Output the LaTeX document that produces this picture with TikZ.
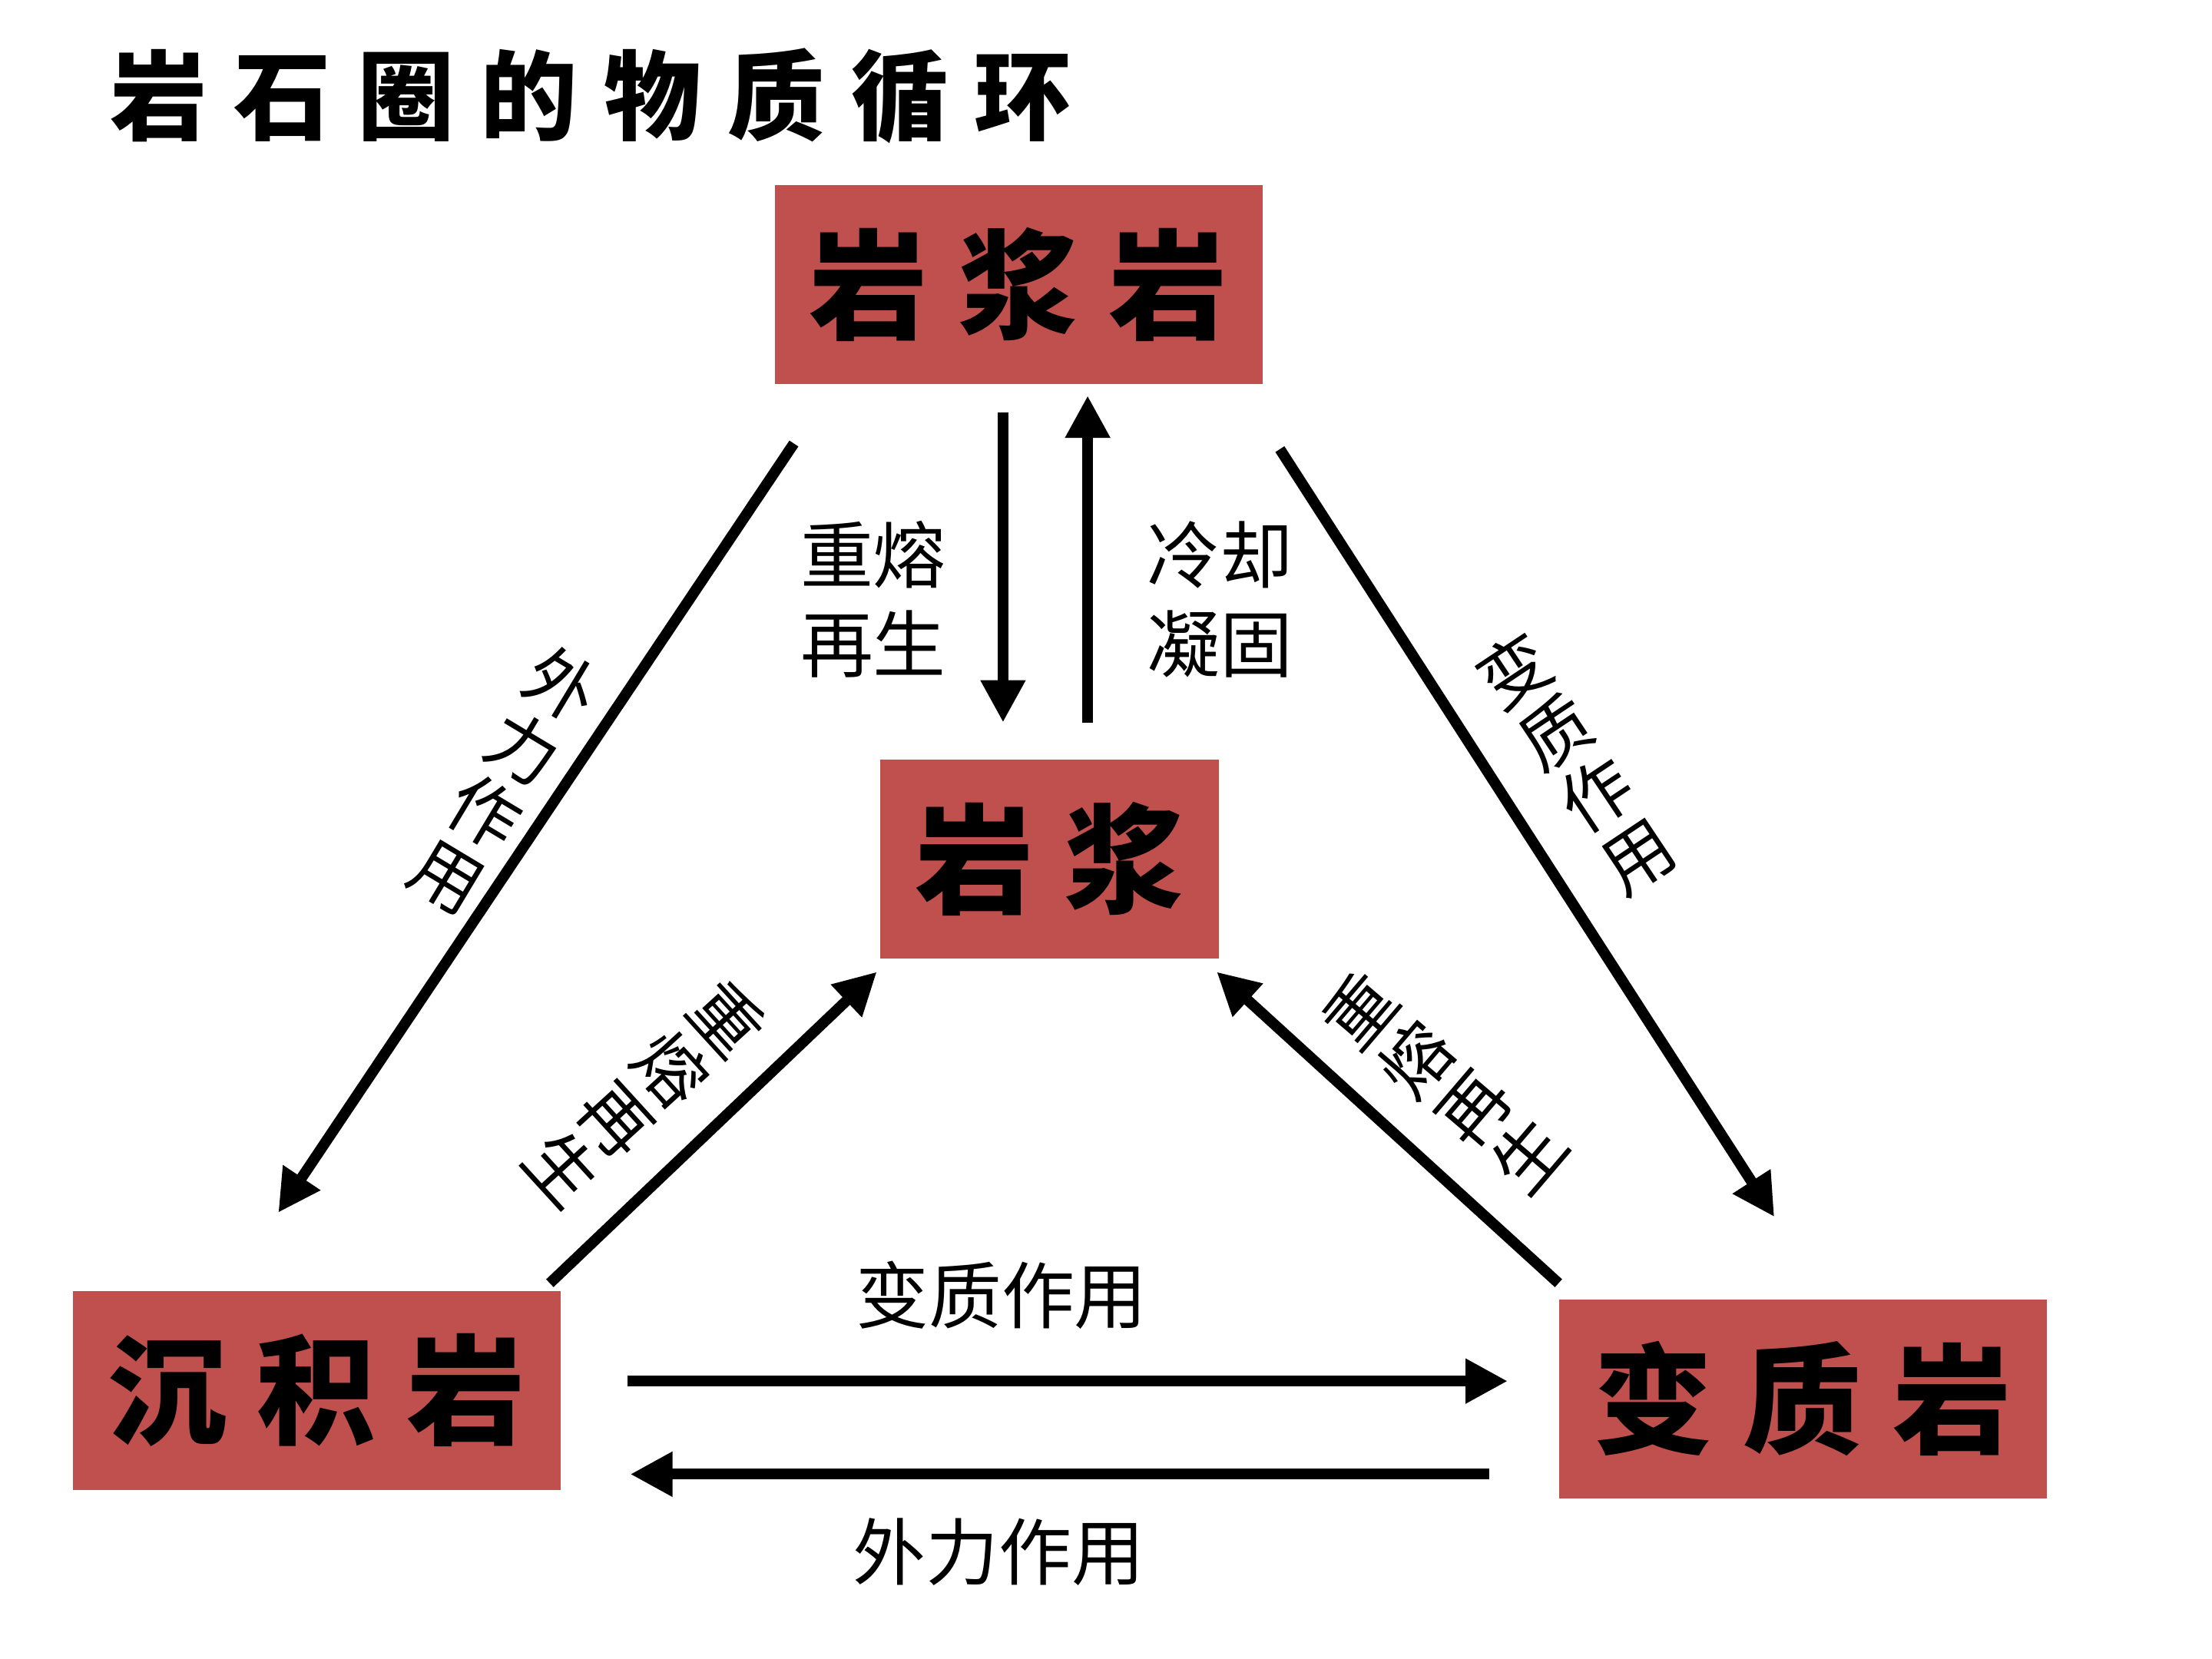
\documentclass[tikz,border=0pt]{standalone}
\usepackage{fontspec}
\newfontfamily\cjk{Noto Sans CJK SC}
\usetikzlibrary{arrows.meta,calc}
\definecolor{rockred}{HTML}{C0504D}

\begin{document}
\begin{tikzpicture}[
            x=0.18367mm, y=-0.18367mm,
            rock/.style={fill=rockred, minimum width=63.5mm, minimum height=25.9mm, inner sep=0pt,
                font=\cjk\bfseries\fontsize{44}{44}\selectfont\addfontfeature{LetterSpace=26}},
            lbl/.style={font=\cjk\fontsize{27}{33}\selectfont, align=center, inner sep=0pt},
            stack/.style={lbl, font=\cjk\fontsize{26}{27.5}\selectfont},
            flow/.style={-{Triangle[width=5.5mm, length=5.5mm]}, line width=1.4mm},
        ]
            \useasboundingbox (0, 0) rectangle (1568, 1176);
            \node[anchor=west, inner sep=0pt, font=\cjk\bfseries\fontsize{36}{36}\selectfont\addfontfeature{LetterSpace=27}] (title) at (78, 68) {岩石圈的物质循环};
            % rocks
            \node[rock] (igneous) at (722, 201.5) {岩浆岩};
            \node[rock, minimum width=44.1mm] (magma) at (744, 609) {岩浆};
            \node[rock] (sediment) at (224.5, 985.5) {沉积岩};
            \node[rock] (metamorphic) at (1278, 991.5) {变质岩};
            % igneous <-> magma
            \draw[flow] ($(igneous.south)+(-11, 20)$) -- ($(magma.north)+(-33, -26)$);
            \draw[flow] ($(magma.north)+(27, -26)$) -- ($(igneous.south)+(49, 8)$);
            \node[lbl] (remelt) at (619, 425) {重熔\\再生};
            \node[lbl] (cooling) at (865, 425) {冷却\\凝固};
            % sides of the triangle
            \draw[flow] ($(igneous.south west)+(14, 42)$) -- ($(sediment.north west)+(146, -55)$);
            \node[stack, rotate=-31] (weathering) at (357.5, 553) {外\\力\\作\\用};
            \draw[flow] ($(igneous.south east)+(12, 46)$) -- ($(metamorphic.north west)+(153, -58)$);
            \node[stack, rotate=33.7] (metamorphism) at (1117, 541) {变\\质\\作\\用};
            \draw[flow] ($(sediment.north east)+(-8, -5)$) -- ($(magma.south west)+(-2, 9)$);
            \node[stack, rotate=-47.6] (remeltsed) at (457, 775) {重\\熔\\再\\生};
            \draw[flow] ($(metamorphic.north west)+(0, -11)$) -- ($(magma.south east)+(-2, 9)$);
            \node[stack, rotate=49.5] (remeltmet) at (1023.5, 767.5) {重\\熔\\再\\生};
            % sediment <-> metamorphic
            \draw[flow] ($(sediment.east)+(47, -6.5)$) -- ($(metamorphic.west)+(-36, -12.5)$);
            \node[lbl] (metamorphismh) at (710, 918) {变质作用};
            \draw[flow] ($(metamorphic.west)+(-49, 53.5)$) -- ($(sediment.east)+(49, 59.5)$);
            \node[lbl] (weatheringh) at (708, 1100) {外力作用};
        \end{tikzpicture}
\end{document}
